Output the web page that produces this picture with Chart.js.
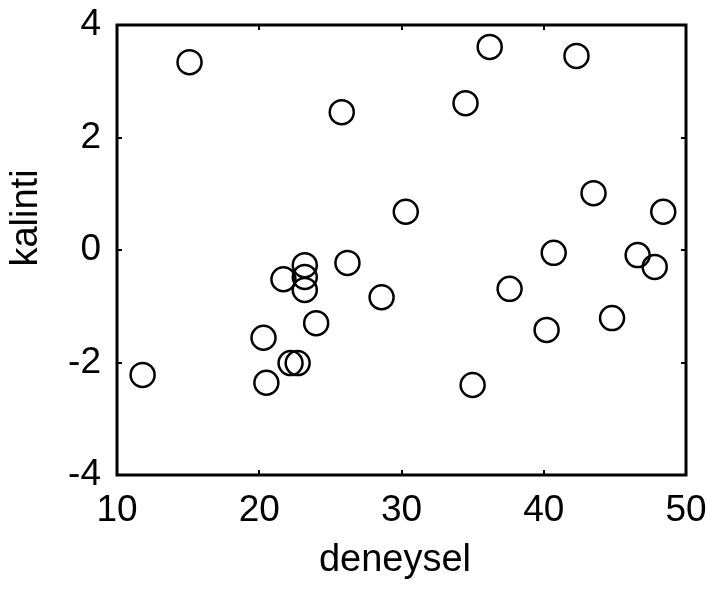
<!DOCTYPE html>
<html>
<head>
<meta charset="utf-8">
<script src="https://cdn.jsdelivr.net/npm/chart.js@4/dist/chart.umd.min.js"></script>
<style>
  html, body { margin: 0; padding: 0; background: #fff; }
  #wrap { width: 706px; height: 590px; }
</style>
</head>
<body>
<div id="wrap"><canvas id="residualChart" width="706" height="590"></canvas></div>
<script>
// measured values (deneysel) and their residuals (kalinti)
const deneysel = [11.8, 15.1, 25.8, 34.5, 36.2, 42.3, 43.5, 48.4, 30.3, 40.7, 46.6, 47.8, 37.6, 44.8,
                  40.2, 35.0, 26.2, 28.6, 24.0, 23.2, 23.2, 23.2, 21.7, 20.3, 20.5, 22.2, 22.7];
const kalinti  = [-2.22, 3.34, 2.45, 2.61, 3.61, 3.45, 1.01, 0.68, 0.68, -0.05, -0.09, -0.30, -0.69, -1.21,
                  -1.42, -2.40, -0.23, -0.84, -1.30, -0.27, -0.48, -0.71, -0.52, -1.56, -2.36, -2.01, -2.01];

const xTicks = [10, 20, 30, 40, 50];
const yTicks = [-4, -2, 0, 2, 4];

const tickFont = { family: "'Liberation Sans', Arial, sans-serif", size: 37 };
const titleFont = "38px 'Liberation Sans', Arial, sans-serif";

// box around the plot with short inward ticks, plus the two axis titles
const frame = {
    id: 'frame',
    afterDraw(chart) {
        const { ctx, chartArea: a, scales } = chart;
        ctx.save();
        ctx.strokeStyle = '#000';
        ctx.lineWidth = 3;
        ctx.strokeRect(a.left, a.top, a.right - a.left, a.bottom - a.top);

        ctx.lineWidth = 2;
        ctx.beginPath();
        xTicks.slice(1, -1).forEach(v => {
            const x = Math.round(scales.x.getPixelForValue(v));
            ctx.moveTo(x, a.bottom); ctx.lineTo(x, a.bottom - 5);
            ctx.moveTo(x, a.top); ctx.lineTo(x, a.top + 5);
        });
        yTicks.slice(1, -1).forEach(v => {
            const y = Math.round(scales.y.getPixelForValue(v));
            ctx.moveTo(a.left, y); ctx.lineTo(a.left + 5, y);
            ctx.moveTo(a.right, y); ctx.lineTo(a.right - 5, y);
        });
        ctx.stroke();

        ctx.fillStyle = '#000';
        ctx.font = titleFont;
        ctx.textAlign = 'center';
        ctx.textBaseline = 'middle';
        ctx.fillText('deneysel', 395, 561);

        ctx.translate(27, 218);
        ctx.rotate(-Math.PI / 2);
        ctx.fillText('kalinti', 0, 0);
        ctx.restore();
    }
};

const ctx = document.getElementById('residualChart').getContext('2d');
const residualChart = new Chart(ctx, {
    type: 'scatter',
    data: {
        datasets: [{
            data: deneysel.map((x, i) => ({ x: x, y: kalinti[i] })),
            pointStyle: 'circle',
            pointRadius: 12,
            pointHoverRadius: 12,
            borderWidth: 2.5,
            borderColor: '#000',
            backgroundColor: 'rgba(0,0,0,0)',
            clip: false
        }]
    },
    options: {
        responsive: false,
        animation: false,
        layout: { padding: { top: 25, right: 20, left: 0, bottom: 0 } },
        plugins: {
            legend: { display: false },
            tooltip: { enabled: false }
        },
        scales: {
            x: {
                type: 'linear',
                min: 10, max: 50,
                afterBuildTicks: s => { s.ticks = xTicks.map(v => ({ value: v })); },
                afterFit: s => { s.height = 115; s.paddingLeft = 0; s.paddingRight = 0; },
                grid: { display: false, drawTicks: false },
                border: { display: false },
                ticks: { color: '#000', font: tickFont, padding: 14, maxRotation: 0 }
            },
            y: {
                type: 'linear',
                min: -4, max: 4,
                afterBuildTicks: s => { s.ticks = yTicks.map(v => ({ value: v })); },
                afterFit: s => { s.width = 117; s.paddingTop = 0; s.paddingBottom = 0; },
                grid: { display: false, drawTicks: false },
                border: { display: false },
                ticks: { color: '#000', font: tickFont, padding: 16 }
            }
        }
    },
    plugins: [frame]
});
</script>
</body>
</html>
